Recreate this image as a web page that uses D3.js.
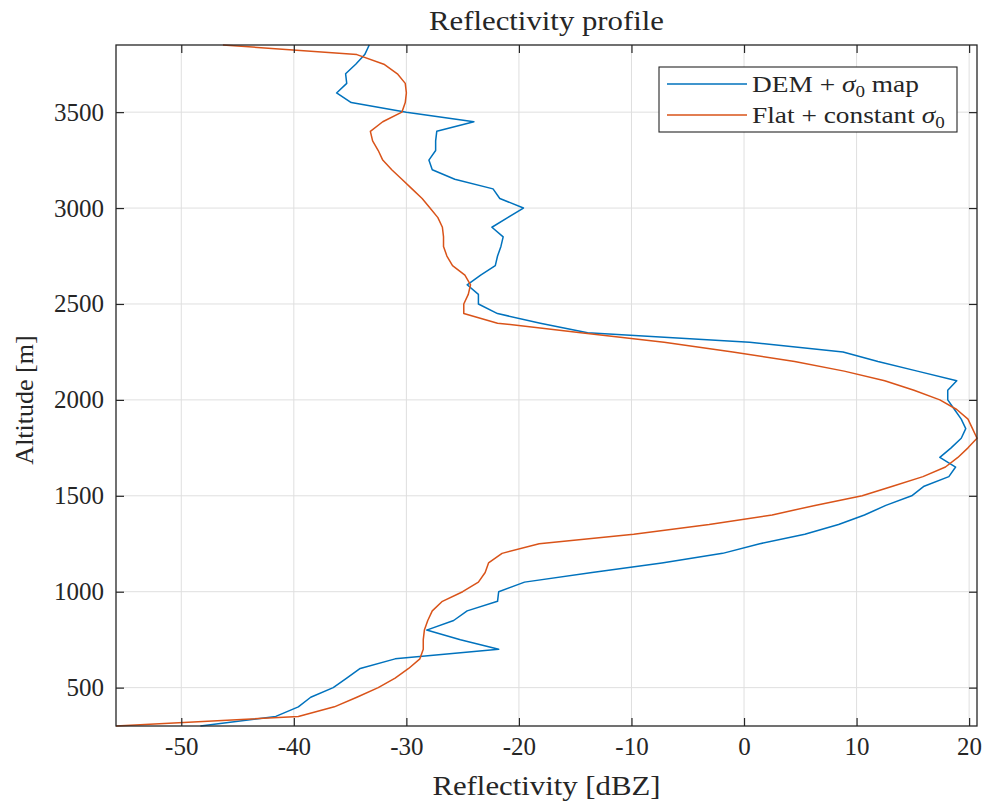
<!DOCTYPE html>
<html>
<head>
<meta charset="utf-8">
<script src="https://cdn.jsdelivr.net/npm/d3@7"></script>
<style>
  html, body { margin: 0; padding: 0; background: #ffffff; }
  svg { display: block; }
  text { font-family: "Liberation Serif", "Times New Roman", serif; fill: #262626; }
</style>
</head>
<body>
<svg id="chart" width="987" height="804"></svg>
<script>
// Altitude levels (m), top of the profile first
const altitudes = [
  3850, 3800, 3750, 3700, 3650, 3600, 3550, 3500, 3450, 3400,
  3350, 3300, 3250, 3200, 3150, 3100, 3050, 3000, 2950, 2900,
  2850, 2800, 2750, 2700, 2650, 2600, 2550, 2500, 2450, 2400,
  2350, 2300, 2250, 2200, 2150, 2100, 2050, 2000, 1950, 1900,
  1850, 1800, 1750, 1700, 1650, 1600, 1550, 1500, 1450, 1400,
  1350, 1300, 1250, 1200, 1150, 1100, 1050, 1000, 950, 900,
  850, 800, 750, 700, 650, 600, 550, 500, 450, 400,
  350, 300
];

// Reflectivity (dBZ) simulated with the DEM and the sigma0 map
const demSigmaMap = [
  -33.3, -33.7, -34.5, -35.4, -35.3, -36.2, -34.9, -30.0, -24.0, -27.3,
  -27.4, -27.4, -28.0, -27.7, -25.7, -22.3, -21.7, -19.6, -21.0, -22.4,
  -21.4, -21.6, -21.9, -22.1, -23.4, -24.6, -23.6, -23.6, -21.9, -18.1,
  -13.9, 0.5, 8.8, 11.9, 15.4, 18.9, 18.1, 18.1, 18.7, 19.3,
  19.7, 19.3, 18.4, 17.4, 18.8, 18.2, 16.0, 14.9, 12.6, 10.7,
  8.4, 5.4, 1.4, -1.9, -7.3, -13.5, -19.5, -21.8, -21.9, -24.6,
  -25.8, -28.2, -25.2, -21.8, -31.0, -34.1, -35.3, -36.5, -38.5, -39.6,
  -41.6, -48.3
];

// Reflectivity (dBZ) simulated over flat terrain with a constant sigma0
const flatConstSigma = [
  -46.3, -34.4, -32.0, -30.8, -30.1, -30.0, -30.1, -30.4, -32.1, -33.2,
  -33.0, -32.5, -32.1, -31.3, -30.4, -29.5, -28.6, -27.9, -27.2, -26.8,
  -26.7, -26.7, -26.4, -25.9, -24.8, -24.3, -24.5, -24.9, -24.9, -21.9,
  -14.5, -7.1, -1.0, 4.5, 8.9, 12.5, 15.1, 17.4, 18.9, 19.9,
  20.3, 20.7, 19.9, 19.0, 17.9, 15.9, 13.2, 10.5, 6.3, 2.5,
  -3.1, -9.8, -18.2, -21.5, -22.7, -23.0, -23.6, -25.0, -26.8, -27.7,
  -28.1, -28.4, -28.5, -28.5, -28.8, -29.8, -31.0, -32.5, -34.4, -36.4,
  -39.6, -55.8
];

const xTicks = [-50, -40, -30, -20, -10, 0, 10, 20];
const yTicks = [500, 1000, 1500, 2000, 2500, 3000, 3500];

const seriesNames = ["DEM + ", "Flat + constant "];
const seriesTails = [" map", ""];
const seriesColors = ["#0072BD", "#D95319"];

const svg = d3.select("#chart");
const W = 987, H = 804;
const margin = { left: 116, right: 10, top: 45, bottom: 78 };
const x0 = margin.left, x1 = W - margin.right;
const y0 = margin.top, y1 = H - margin.bottom;

svg.append("rect").attr("width", W).attr("height", H).attr("fill", "#ffffff");

const allValues = demSigmaMap.concat(flatConstSigma);
const x = d3.scaleLinear().domain(d3.extent(allValues)).range([x0, x1]);
const y = d3.scaleLinear().domain(d3.extent(altitudes)).range([y1, y0]);

const axisColor = "#262626";
const tickLen = 8;
// the serif face is set a little wider than its natural shape
const widen = 1.14;

// grid
const grid = svg.append("g");
grid.selectAll("line.gx").data(xTicks).join("line")
  .attr("x1", d => x(d)).attr("x2", d => x(d))
  .attr("y1", y0).attr("y2", y1)
  .attr("stroke", "#dfdfdf").attr("stroke-width", 1);
grid.selectAll("line.gy").data(yTicks).join("line")
  .attr("x1", x0).attr("x2", x1)
  .attr("y1", d => y(d)).attr("y2", d => y(d))
  .attr("stroke", "#dfdfdf").attr("stroke-width", 1);

// data lines
const series = [demSigmaMap, flatConstSigma];
const plot = svg.append("g");
series.forEach((vals, i) => {
  const line = d3.line()
    .x((d, k) => x(vals[k]))
    .y(d => y(d));
  plot.append("path")
    .datum(altitudes)
    .attr("d", line)
    .attr("fill", "none")
    .attr("stroke", seriesColors[i])
    .attr("stroke-width", 1.5)
    .attr("stroke-linejoin", "round");
});

// axes with inward ticks on all four sides
const fontTick = 25;
const fmt = d => String(d);  // plain hyphen for negatives
const bottomAxis = d3.axisBottom(x).tickValues(xTicks).tickSize(-tickLen).tickPadding(11)
  .tickFormat(fmt);
const leftAxis = d3.axisLeft(y).tickValues(yTicks).tickSize(-tickLen).tickPadding(12)
  .tickFormat(fmt);
const topAxis = d3.axisTop(x).tickValues(xTicks).tickSize(-tickLen).tickFormat("");
const rightAxis = d3.axisRight(y).tickValues(yTicks).tickSize(-tickLen).tickFormat("");

function styleAxis(g) {
  g.select(".domain").remove();
  g.selectAll(".tick line").attr("stroke", axisColor).attr("stroke-width", 1.2);
  g.selectAll(".tick text")
    .attr("fill", axisColor)
    .style("font-family", '"Liberation Serif", serif')
    .style("font-size", fontTick + "px");
}
svg.append("g").attr("transform", `translate(0,${y1})`).call(bottomAxis).call(styleAxis);
svg.append("g").attr("transform", `translate(${x0},0)`).call(leftAxis).call(styleAxis);
svg.append("g").attr("transform", `translate(0,${y0})`).call(topAxis).call(styleAxis);
svg.append("g").attr("transform", `translate(${x1},0)`).call(rightAxis).call(styleAxis);

// box
svg.append("rect")
  .attr("x", x0).attr("y", y0).attr("width", x1 - x0).attr("height", y1 - y0)
  .attr("fill", "none").attr("stroke", axisColor).attr("stroke-width", 1.3);

// title and axis labels
svg.append("text")
  .attr("transform", `translate(${(x0 + x1) / 2},30) scale(${widen},1)`)
  .attr("text-anchor", "middle")
  .style("font-size", "27px")
  .text("Reflectivity profile");

svg.append("text")
  .attr("transform", `translate(${(x0 + x1) / 2},795) scale(${widen},1)`)
  .attr("text-anchor", "middle")
  .style("font-size", "27px")
  .text("Reflectivity [dBZ]");

svg.append("text")
  .attr("transform", `translate(33,400) rotate(-90)`)
  .attr("text-anchor", "middle")
  .style("font-size", "26px")
  .text("Altitude [m]");

// legend
const lg = svg.append("g").attr("transform", "translate(659,67)");
lg.append("rect").attr("width", 298).attr("height", 65)
  .attr("fill", "#ffffff").attr("stroke", axisColor).attr("stroke-width", 1.1);
const rowY = [17, 48];
seriesNames.forEach((name, i) => {
  lg.append("line")
    .attr("x1", 8).attr("x2", 88)
    .attr("y1", rowY[i]).attr("y2", rowY[i])
    .attr("stroke", seriesColors[i]).attr("stroke-width", 1.5);
  const t = lg.append("text")
    .attr("transform", `translate(93,${rowY[i] + 8}) scale(1.19,1)`)
    .style("font-size", "23px");
  t.append("tspan").text(name);
  t.append("tspan").style("font-style", "italic").text("σ");
  t.append("tspan").attr("dy", 5).style("font-size", "16px").text("0");
  t.append("tspan").attr("dy", -5).text(seriesTails[i]);
});
</script>
</body>
</html>
